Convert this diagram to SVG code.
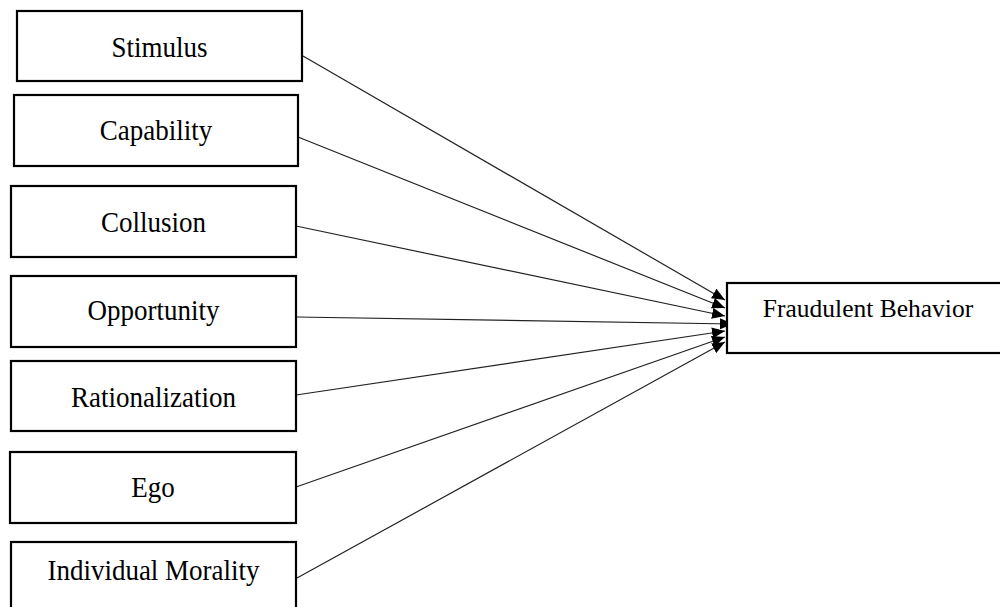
<svg xmlns="http://www.w3.org/2000/svg" width="1000" height="607" viewBox="0 0 1000 607">
<defs>
<style>
.box{fill:#fff;stroke:#000;stroke-width:2.2}
.lbl{font-family:"Liberation Serif","Times New Roman",serif;font-size:27px;fill:#000;text-anchor:middle}
.lblr{font-family:"Liberation Serif","Times New Roman",serif;font-size:25.5px;fill:#000;text-anchor:middle}
.edge{stroke:#222;stroke-width:1.2;fill:none;marker-end:url(#ah)}
</style>
<marker id="ah" markerUnits="userSpaceOnUse" markerWidth="13" markerHeight="11" refX="13" refY="5.5" orient="auto">
<path d="M0,0 L13,5.5 L0,11 Z" fill="#000"/>
</marker>
</defs>
<rect width="1000" height="607" fill="#fff"/>
<g id="connectors">
<line class="edge" x1="303" y1="56" x2="725" y2="300"/>
<line class="edge" x1="298" y1="137" x2="725" y2="308"/>
<line class="edge" x1="296" y1="226" x2="725" y2="316"/>
<line class="edge" x1="296" y1="317" x2="733" y2="324"/>
<line class="edge" x1="296" y1="395" x2="725" y2="331"/>
<line class="edge" x1="296" y1="487" x2="725" y2="337"/>
<line class="edge" x1="297" y1="578" x2="725" y2="342"/>
</g>
<g id="stimulus"><rect class="box" x="17" y="11" width="285" height="70"/><text class="lbl" transform="translate(159.5,57) scale(1,1.1)">Stimulus</text></g>
<g id="capability"><rect class="box" x="14" y="95" width="284" height="71"/><text class="lbl" transform="translate(156,140) scale(1,1.1)">Capability</text></g>
<g id="collusion"><rect class="box" x="11" y="186" width="285" height="71"/><text class="lbl" transform="translate(153.5,232) scale(1,1.1)">Collusion</text></g>
<g id="opportunity"><rect class="box" x="11" y="276" width="285" height="71"/><text class="lbl" transform="translate(153.5,320) scale(1,1.1)">Opportunity</text></g>
<g id="rationalization"><rect class="box" x="11" y="361" width="285" height="70"/><text class="lbl" transform="translate(153.5,407) scale(1,1.1)">Rationalization</text></g>
<g id="ego"><rect class="box" x="10" y="452" width="286" height="71"/><text class="lbl" transform="translate(153,497) scale(1,1.1)">Ego</text></g>
<g id="morality"><rect class="box" x="11" y="542" width="285" height="80"/><text class="lbl" transform="translate(153.5,580) scale(1,1.1)">Individual Morality</text></g>
<g id="fraudulent"><rect class="box" x="727" y="283" width="290" height="70"/><text class="lblr" x="868" y="317">Fraudulent Behavior</text></g>
</svg>
